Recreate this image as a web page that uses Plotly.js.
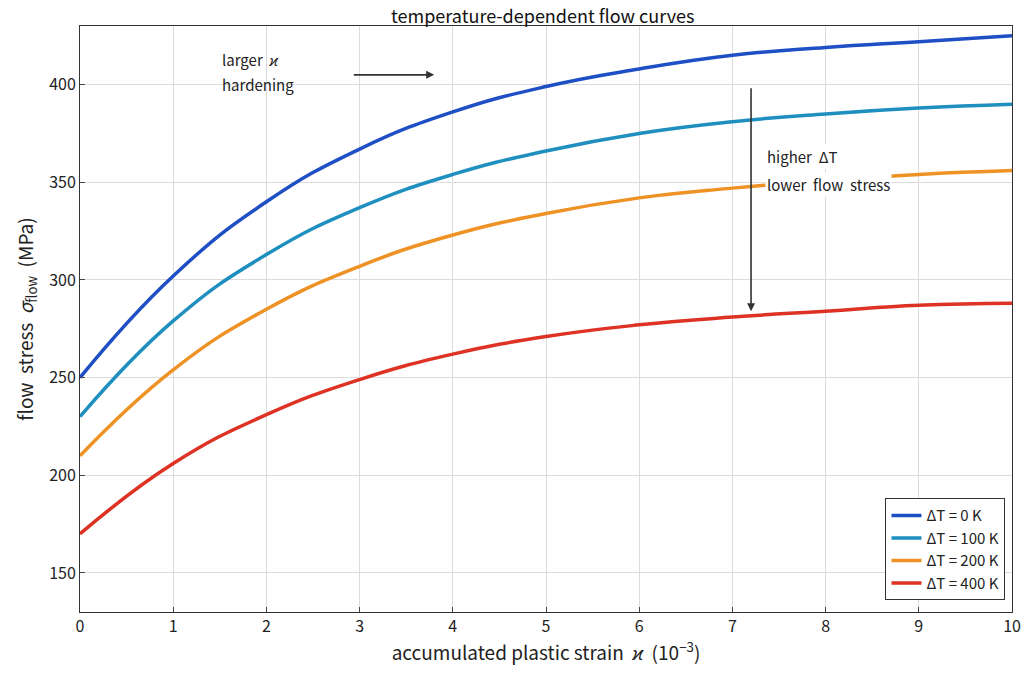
<!DOCTYPE html>
<html><head><meta charset="utf-8">
<script src="https://cdn.plot.ly/plotly-3.0.1.min.js"></script>
<style>body{margin:0}#c{width:1024px;height:679px}</style></head>
<body><div id="c"></div>
<script>
const strain = [0,1,2,3,4,5,6,7,8,9,10];
const names = ["ΔT = 0 K","ΔT = 100 K","ΔT = 200 K","ΔT = 400 K"];
const colors = ["#1f4fc4","#1f8fbf","#ef9225","#dd3224"];
const s0   = [250,302,340,367,386,399,408,415,419,422,425];
const s100 = [230,279,313,337,354,366,375,381,385,388,390];
const s200 = [210,254,285,307,323,334,342,347,351,354,356];
const s400 = [170,206,231,249,262,271,277,281,284,287,288];
const series = [s0,s100,s200,s400];
const F = "Noto Sans CJK JP, sans-serif";
const traces = series.map((y,i)=>({x:strain,y:y,name:names[i],mode:"lines",
  line:{color:colors[i],width:3.5,shape:"spline",smoothing:1.3}}));
const layout = {
  width:1024,height:679,margin:{l:80,r:12,t:26,b:67},
  paper_bgcolor:"white",plot_bgcolor:"white",
  font:{family:F,size:16,color:"#222"},
  title:{text:"temperature-dependent flow curves",x:0.53,y:0.985,yanchor:"top",font:{size:18,color:"#111"}},
  xaxis:{range:[0,10],dtick:1,showgrid:true,gridcolor:"#dcdcdc",zeroline:false,
    showline:true,mirror:true,linecolor:"#333",ticks:"inside",ticklen:5,
    title:{text:"accumulated plastic strain  <i>ϰ</i>  (10<sup>−3</sup>)",font:{size:19},standoff:8}},
  yaxis:{range:[130,430],tickvals:[150,200,250,300,350,400],showgrid:true,gridcolor:"#dcdcdc",zeroline:false,
    showline:true,mirror:true,linecolor:"#333",ticks:"inside",ticklen:5,
    title:{text:"flow  stress  <i>σ</i><sub>flow</sub>  (MPa)",font:{size:19},standoff:10}},
  legend:{x:0.993,y:0.02,xanchor:"right",yanchor:"bottom",bordercolor:"#333",borderwidth:1,
    bgcolor:"white",font:{size:15}},
  showlegend:true,
  annotations:[
    {x:1.5,y:413,text:"larger  <i>ϰ</i>",showarrow:false,xanchor:"left",font:{size:15}},
    {x:1.5,y:400,text:"hardening",showarrow:false,xanchor:"left",font:{size:15}},
    {x:3.8,y:405,ax:2.9,ay:405,axref:"x",ayref:"y",text:" ",showarrow:true,arrowhead:2,arrowsize:1,arrowwidth:1.6,arrowcolor:"#333"},
    {x:7.2,y:284,ax:7.2,ay:405,axref:"x",ayref:"y",text:" ",showarrow:true,arrowhead:2,arrowsize:1,arrowwidth:1.6,arrowcolor:"#333"},
    {x:7.35,y:363,text:"higher  ΔT",showarrow:false,xanchor:"left",font:{size:15},bgcolor:"white"},
    {x:7.35,y:349,text:"lower  flow  stress",showarrow:false,xanchor:"left",font:{size:15},bgcolor:"white"}
  ]
};
Plotly.newPlot("c",traces,layout,{displayModeBar:false});
</script></body></html>
